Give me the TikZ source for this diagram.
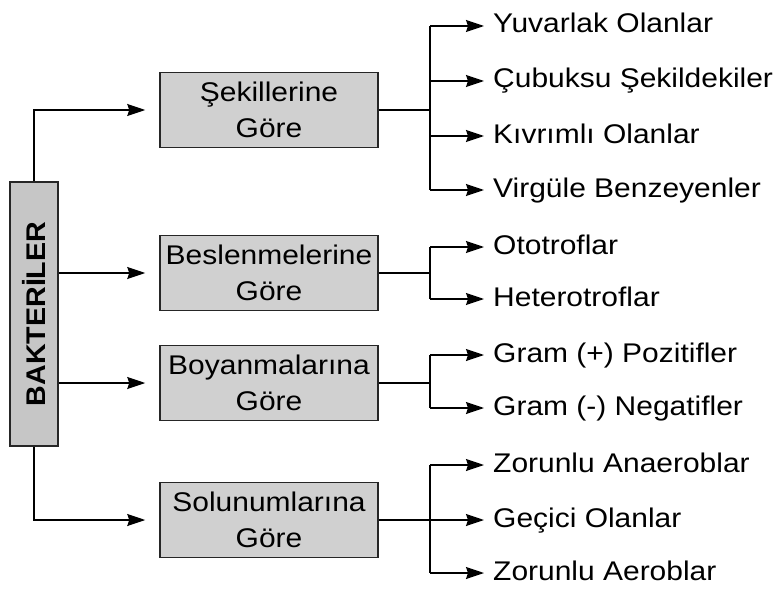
\documentclass[tikz,border=0pt]{standalone}
\usepackage{fontspec}
\usepackage{graphicx}
\setmainfont{Liberation Sans}[FakeStretch=1.11]
\newfontfamily\titlefont{Liberation Sans}[FakeStretch=1.06]
\usetikzlibrary{arrows.meta}
\definecolor{boxgray}{HTML}{D0D0D0}
\definecolor{rootgray}{HTML}{C6C6C6}
\definecolor{edgegray}{HTML}{262626}
\begin{document}
\begin{tikzpicture}[x=1pt,y=-1pt,
  font=\fontsize{27}{36}\selectfont,
  catbox/.style={draw=edgegray, line width=1.5pt, fill=boxgray,
    minimum width=218pt, minimum height=75pt, align=center, inner sep=0pt},
  rootbox/.style={draw=edgegray, line width=1.5pt, fill=rootgray,
    minimum width=48pt, minimum height=264pt, inner sep=0pt},
  leaf/.style={anchor=west, inner sep=0pt, text height=19.3pt, text depth=5.3pt},
  link/.style={line width=1.4pt, black},
  arr/.style={link, -{Stealth[length=18pt,width=12pt,inset=2pt]}},
]
\useasboundingbox (0,0) rectangle (779,591);

% root
\node[rootbox] (L) at (34,314)
  {\rotatebox{90}{\titlefont\bfseries BAKTERİLER}};

% categories
\node[catbox] (s1) at (269,110) {Şekillerine\\Göre};
\node[catbox] (s2) at (269,273) {Beslenmelerine\\Göre};
\node[catbox] (s3) at (269,383) {Boyanmalarına\\Göre};
\node[catbox] (s4) at (269,520) {Solunumlarına\\Göre};

% root to categories
\draw[arr, shorten >=14pt] (L.north) -- (L.north |- s1.west) -- (s1.west);
\draw[arr, shorten >=14pt] (L.east |- s2.west) -- (s2.west);
\draw[arr, shorten >=14pt] (L.east |- s3.west) -- (s3.west);
\draw[arr, shorten >=14pt] (L.south) -- (L.south |- s4.west) -- (s4.west);

% leaves
\node[leaf] (a1) at (493,26)  {Yuvarlak Olanlar};
\node[leaf] (a2) at (493,81)  {Çubuksu Şekildekiler};
\node[leaf] (a3) at (493,136) {Kıvrımlı Olanlar};
\node[leaf] (a4) at (493,190) {Virgüle Benzeyenler};
\node[leaf] (b1) at (493,247) {Ototroflar};
\node[leaf] (b2) at (493,299) {Heterotroflar};
\node[leaf] (c1) at (493,355) {Gram (+) Pozitifler};
\node[leaf] (c2) at (493,408) {Gram (-) Negatifler};
\node[leaf] (d1) at (493,465) {Zorunlu Anaeroblar};
\node[leaf] (d2) at (493,520) {Geçici Olanlar};
\node[leaf] (d3) at (493,573) {Zorunlu Aeroblar};

\coordinate (bx) at (430,0);

% category to leaves
\draw[link] (s1.east) -- (bx |- s1.east);
\draw[link] (bx |- a1.west) -- (bx |- a4.west);
\foreach \n in {a1,a2,a3,a4}
  \draw[arr, shorten >=9pt] (bx |- \n.west) -- (\n.west);

\draw[link] (s2.east) -- (bx |- s2.east);
\draw[link] (bx |- b1.west) -- (bx |- b2.west);
\foreach \n in {b1,b2}
  \draw[arr, shorten >=9pt] (bx |- \n.west) -- (\n.west);

\draw[link] (s3.east) -- (bx |- s3.east);
\draw[link] (bx |- c1.west) -- (bx |- c2.west);
\foreach \n in {c1,c2}
  \draw[arr, shorten >=9pt] (bx |- \n.west) -- (\n.west);

\draw[link] (s4.east) -- (bx |- s4.east);
\draw[link] (bx |- d1.west) -- (bx |- d3.west);
\foreach \n in {d1,d2,d3}
  \draw[arr, shorten >=9pt] (bx |- \n.west) -- (\n.west);
\end{tikzpicture}
\end{document}
